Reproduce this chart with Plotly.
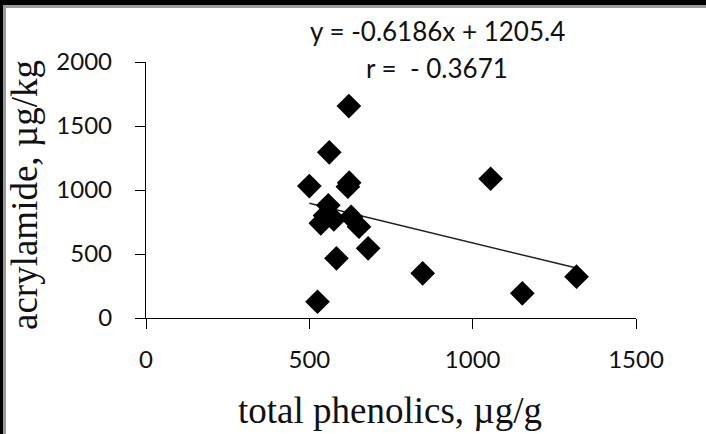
import plotly.graph_objects as go

# data
phenolics = [525, 500, 561, 621, 622, 618, 558, 548, 535, 575, 628, 652, 680, 583, 847, 1055, 1152, 1318]
acrylamide = [127, 1031, 1294, 1656, 1057, 1026, 880, 800, 740, 770, 790, 713, 544, 466, 349, 1088, 193, 323]
slope = -0.6186
intercept = 1205.4
r_value = -0.3671
x_ticks = [0, 500, 1000, 1500]
y_ticks = [0, 500, 1000, 1500, 2000]
x_title = "total phenolics, µg/g"
y_title = "acrylamide, µg/kg"

W, H = 706, 434
L, R, T, B = 146, 70, 62, 116
PW, PH = W - L - R, H - T - B


def px_x(p):
    return (p - L) / PW


def px_y(p):
    return (H - B - p) / PH


xmin, xmax = min(phenolics), max(phenolics)
trend_x = [xmin, xmax]
trend_y = [slope * v + intercept for v in trend_x]

fig = go.Figure()
fig.add_trace(go.Scatter(x=trend_x, y=trend_y, mode="lines",
                         line=dict(color="#222222", width=1.5),
                         showlegend=False, hoverinfo="skip"))
fig.add_trace(go.Scatter(x=phenolics, y=acrylamide, mode="markers",
                         marker=dict(symbol="diamond", size=19, color="black",
                                     line=dict(width=0)),
                         showlegend=False))

tick_font = dict(family="Lato, Carlito, Calibri, sans-serif", size=24, color="#111111")
title_font = dict(family="Liberation Serif, Times New Roman, serif", size=37, color="#111111")

fig.update_xaxes(range=[0, 1500], tickvals=x_ticks, ticks="outside", ticklen=10,
                 tickwidth=1.3, tickcolor="black", showline=True, linecolor="black",
                 linewidth=1.3, showgrid=False, zeroline=False, tickfont=tick_font,
                 ticklabelstandoff=10, fixedrange=True)
fig.update_yaxes(range=[0, 2000], tickvals=y_ticks, ticks="outside", ticklen=10,
                 tickwidth=1.3, tickcolor="black", showline=True, linecolor="black",
                 linewidth=1.3, showgrid=False, zeroline=False, tickfont=tick_font,
                 ticklabelstandoff=18, fixedrange=True)

fig.add_annotation(text=x_title, xref="paper", yref="paper", x=px_x(390), y=px_y(410),
                   showarrow=False, font=title_font, xanchor="center", yanchor="middle")
fig.add_annotation(text=y_title, xref="paper", yref="paper", x=px_x(24), y=px_y(195),
                   showarrow=False, font=title_font, xanchor="center", yanchor="middle",
                   textangle=-90)

ann_font = dict(family="Lato, Carlito, Calibri, sans-serif", size=26, color="#111111")
fig.add_annotation(text=f"y = {slope}x + {intercept}", xref="paper", yref="paper",
                   x=px_x(437), y=px_y(31),
                   showarrow=False, font=ann_font, xanchor="center", yanchor="middle")
fig.add_annotation(text=f"r =  - {abs(r_value)}", xref="paper", yref="paper",
                   x=px_x(437), y=px_y(68),
                   showarrow=False, font=ann_font, xanchor="center", yanchor="middle")

# dark frame on top and left edges
shapes = [
    dict(type="rect", xref="paper", yref="paper", xsizemode="pixel", ysizemode="pixel",
         xanchor=0, yanchor=1, x0=-L - 2, x1=W - L + 2, y0=T - 5, y1=T + 2,
         fillcolor="black", line=dict(width=0), layer="above"),
    dict(type="rect", xref="paper", yref="paper", xsizemode="pixel", ysizemode="pixel",
         xanchor=0, yanchor=1, x0=-L + 3, x1=W - L + 2, y0=T - 8, y1=T - 5,
         fillcolor="#9a9a9a", line=dict(width=0), layer="above"),
    dict(type="rect", xref="paper", yref="paper", xsizemode="pixel", ysizemode="pixel",
         xanchor=0, yanchor=1, x0=-L - 2, x1=-L + 3, y0=-(H - T) - 2, y1=T + 2,
         fillcolor="black", line=dict(width=0), layer="above"),
    dict(type="rect", xref="paper", yref="paper", xsizemode="pixel", ysizemode="pixel",
         xanchor=0, yanchor=1, x0=-L + 3, x1=-L + 6, y0=-(H - T) - 2, y1=T - 5,
         fillcolor="#9a9a9a", line=dict(width=0), layer="above"),
]

fig.update_layout(width=W, height=H, margin=dict(l=L, r=R, t=T, b=B),
                  paper_bgcolor="white", plot_bgcolor="white", shapes=shapes,
                  showlegend=False)

fig.write_html("out.html", config={"displayModeBar": False},
               post_script="document.body.style.margin='0';document.body.style.overflow='hidden';")
